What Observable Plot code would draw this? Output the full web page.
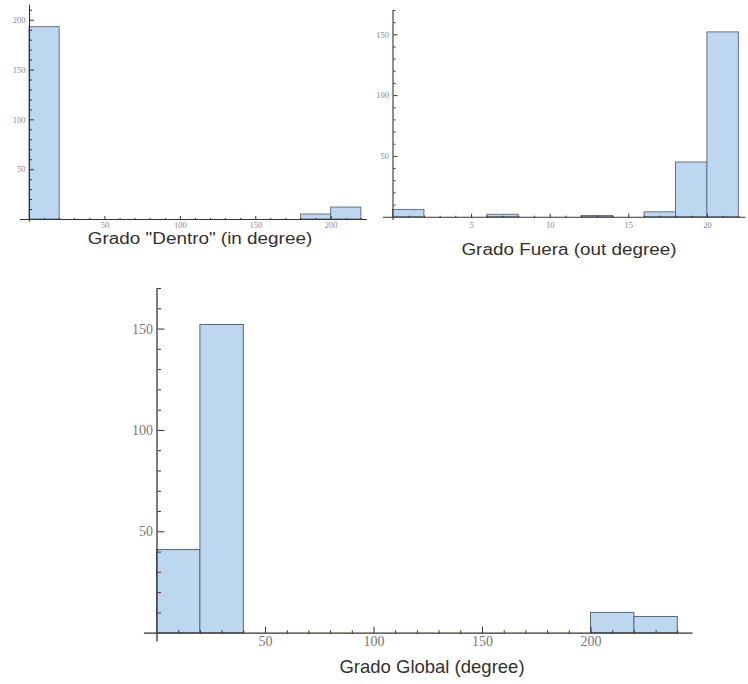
<!DOCTYPE html>
<html><head><meta charset="utf-8">
<script src="https://cdn.jsdelivr.net/npm/d3@7"></script>
<script src="https://cdn.jsdelivr.net/npm/@observablehq/plot@0.6"></script>
<style>
html,body{margin:0;padding:0;background:#fff;}
#root{position:relative;width:748px;height:684px;overflow:hidden;background:#fff;}
#root svg{position:absolute;}
.title{position:absolute;white-space:nowrap;font-family:"Liberation Sans",Arial,Helvetica,sans-serif;color:#35302c;line-height:1;}
</style></head><body><div id="root"></div>
<script>
// ---- Data: in-degree histogram (bin width 20) ----
const inBinStarts = [0, 20, 40, 60, 80, 100, 120, 140, 160, 180, 200];
const inCounts    = [193, 0, 0, 0, 0, 0, 0, 0, 0, 5, 12];
const inBinWidth = 20;
const inXTicks = [50, 100, 150, 200];
const inYTicks = [50, 100, 150, 200];
const inTitle = 'Grado "Dentro" (in degree)';

// ---- Data: out-degree histogram (bin width 2) ----
const outBinStarts = [0, 2, 4, 6, 8, 10, 12, 14, 16, 18, 20];
const outCounts    = [6, 0, 0, 2, 0, 0, 1, 0, 4, 45, 152];
const outBinWidth = 2;
const outXTicks = [5, 10, 15, 20];
const outYTicks = [50, 100, 150];
const outTitle = "Grado Fuera (out degree)";

// ---- Data: global degree histogram (bin width 20) ----
const globalBinStarts = [0, 20, 40, 60, 80, 100, 120, 140, 160, 180, 200, 220];
const globalCounts    = [41, 152, 0, 0, 0, 0, 0, 0, 0, 0, 10, 8];
const globalBinWidth = 20;
const globalXTicks = [50, 100, 150, 200];
const globalYTicks = [50, 100, 150];
const globalTitle = "Grado Global (degree)";

const BAR_FILL = "#bdd7f1";
const BAR_STROKE = "#56687f";
const AXIS = "#3d3129";
const SERIF = '"Liberation Serif","DejaVu Serif",Times,serif';

function minorTicks(step, max, majors) {
  return d3.range(step, max + 1e-9, step).filter(v => !majors.some(m => Math.abs(m - v) < 1e-9));
}

function histPanel(o) {
  const bins = o.starts.map((s, i) => ({x1: s, x2: s + o.binWidth, count: o.counts[i]})).filter(d => d.count > 0);
  const blank = () => "";
  return Plot.plot({
    width: o.width, height: o.height,
    marginLeft: o.m[0], marginRight: o.m[1], marginTop: o.m[2], marginBottom: o.m[3],
    x: {domain: o.xDomain}, y: {domain: o.yDomain},
    style: {background: "transparent", overflow: "visible"},
    marks: [
      Plot.rectY(bins, {x1: "x1", x2: "x2", y: "count", fill: BAR_FILL, stroke: BAR_STROKE, strokeWidth: o.barStroke}),
      Plot.ruleY([0], {x1: o.xExt[0], x2: o.xExt[1], stroke: AXIS, strokeWidth: o.axisWidth}),
      Plot.ruleX([0], {y1: o.yExt[0], y2: o.yExt[1], stroke: AXIS, strokeWidth: o.axisWidth}),
      // inward-pointing ticks (Mathematica style): draw "top"/"right" ticks at the bottom/left frame edge
      Plot.axisX({anchor: "top", frameAnchor: "bottom", ticks: minorTicks(o.xMinorStep, o.xDomain[1], o.xTicks), tickSize: o.minorLen, tickFormat: blank, stroke: AXIS, label: null}),
      Plot.axisX({anchor: "top", frameAnchor: "bottom", ticks: o.xTicks, tickSize: o.majorLen, tickFormat: blank, stroke: AXIS, label: null}),
      Plot.axisY({anchor: "right", frameAnchor: "left", ticks: minorTicks(o.yMinorStep, o.yDomain[1], o.yTicks), tickSize: o.minorLen, tickFormat: blank, stroke: AXIS, label: null}),
      Plot.axisY({anchor: "right", frameAnchor: "left", ticks: o.yTicks, tickSize: o.majorLen, tickFormat: blank, stroke: AXIS, label: null}),
      // tick labels
      Plot.axisX({anchor: "bottom", ticks: o.xTicks, tickSize: 0, tickPadding: o.xPad, fill: o.labelColor, fontSize: o.fontSize, fontFamily: SERIF, label: null}),
      Plot.axisY({anchor: "left", ticks: o.yTicks, tickSize: 0, tickPadding: o.yPad, fill: o.labelColor, fontSize: o.fontSize, fontFamily: SERIF, label: null})
    ]
  });
}

const root = document.getElementById("root");

function place(svg, left, top) {
  svg.style.left = left + "px";
  svg.style.top = top + "px";
  root.appendChild(svg);
}

function addTitle(text, cx, top, size, sx) {
  const d = document.createElement("div");
  d.className = "title";
  d.textContent = text;
  d.style.left = cx + "px";
  d.style.top = top + "px";
  d.style.fontSize = size + "px";
  d.style.transform = `translateX(-50%) scaleX(${sx})`;
  root.appendChild(d);
}

// Panel 1: in degree
place(histPanel({
  starts: inBinStarts, counts: inCounts, binWidth: inBinWidth,
  width: 372, height: 235, m: [29, 5.1, 4.75, 16],
  xDomain: [0, 224], yDomain: [0, 215], xExt: [-6, 224], yExt: [-2.7, 215],
  xTicks: inXTicks, yTicks: inYTicks, xMinorStep: 10, yMinorStep: 10,
  majorLen: 4, minorLen: 2, xPad: 2.5, yPad: 4, fontSize: 8.5,
  labelColor: "#9a7f86", barStroke: 0.9, axisWidth: 1.1
}), 0, 0);

// Panel 2: out degree
place(histPanel({
  starts: outBinStarts, counts: outCounts, binWidth: outBinWidth,
  width: 376, height: 235, m: [20.5, 2.6, 10, 18.3],
  xDomain: [0, 22.45], yDomain: [0, 170], xExt: [-0.6, 22.45], yExt: [-2.7, 170],
  xTicks: outXTicks, yTicks: outYTicks, xMinorStep: 1, yMinorStep: 10,
  majorLen: 4, minorLen: 2, xPad: 4.5, yPad: 4, fontSize: 8.5,
  labelColor: "#857f8c", barStroke: 0.9, axisWidth: 1.1
}), 372, 0);

// Panel 3: global degree
place(histPanel({
  starts: globalBinStarts, counts: globalCounts, binWidth: globalBinWidth,
  width: 748, height: 390, m: [156.5, 55.5, 18, 27.3],
  xDomain: [0, 247], yDomain: [0, 170], xExt: [-5.8, 247], yExt: [-4.4, 170],
  xTicks: globalXTicks, yTicks: globalYTicks, xMinorStep: 10, yMinorStep: 10,
  majorLen: 7, minorLen: 3.5, xPad: 3.3, yPad: 4, fontSize: 14,
  labelColor: "#7b7670", barStroke: 1, axisWidth: 1.3
}), 0, 270);

addTitle(inTitle, 199.7, 230.5, 16, 1.18);
addTitle(outTitle, 569, 241.5, 16, 1.18);
addTitle(globalTitle, 432, 658, 18.5, 1.0);
</script></body></html>
